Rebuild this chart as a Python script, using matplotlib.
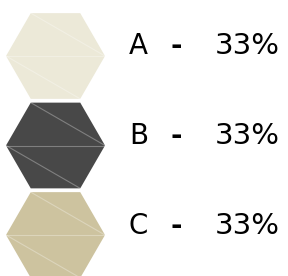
import numpy as np
import matplotlib
matplotlib.use("Agg")
import matplotlib.pyplot as plt
from matplotlib.patches import Polygon

categories = ["A", "B", "C"]
values = [33, 33, 33]
colors = ["#ECE9D8", "#484848", "#CDC39F"]

fig = plt.figure(figsize=(2.88, 2.76), dpi=100)
ax = fig.add_axes([0, 0, 1, 1])
ax.set_xlim(0, 288)
ax.set_ylim(276, 0)
ax.axis("off")

R = 49.5
cx = 55.5
for i, (cat, val, col) in enumerate(zip(categories, values, colors)):
    cy = 56 + i * 89.5
    ang = np.deg2rad(np.arange(0, 360, 60))
    verts = np.column_stack([cx + R * np.cos(ang), cy + R * np.sin(ang)])
    ax.add_patch(Polygon(verts, closed=True, facecolor=col, edgecolor="none"))
    # vertices: 0 right, 1 bottom-right, 2 bottom-left, 3 left, 4 top-left, 5 top-right
    for a, b in [(4, 0), (3, 0), (3, 1)]:
        ax.plot([verts[a, 0], verts[b, 0]], [verts[a, 1], verts[b, 1]],
                color="white", alpha=0.3, lw=0.8)
    base = 53.5 + i * 90
    ax.text(129, base, cat, fontsize=20, family="DejaVu Sans", ha="left", va="baseline", color="black")
    ax.text(176.5, base, "-", fontsize=20, family="DejaVu Sans", fontweight="bold",
            ha="center", va="baseline", color="black")
    ax.text(280, base, f"{val}%", fontsize=21, family="DejaVu Sans", ha="right", va="baseline", color="black")

fig.savefig("out.png", dpi=100)
